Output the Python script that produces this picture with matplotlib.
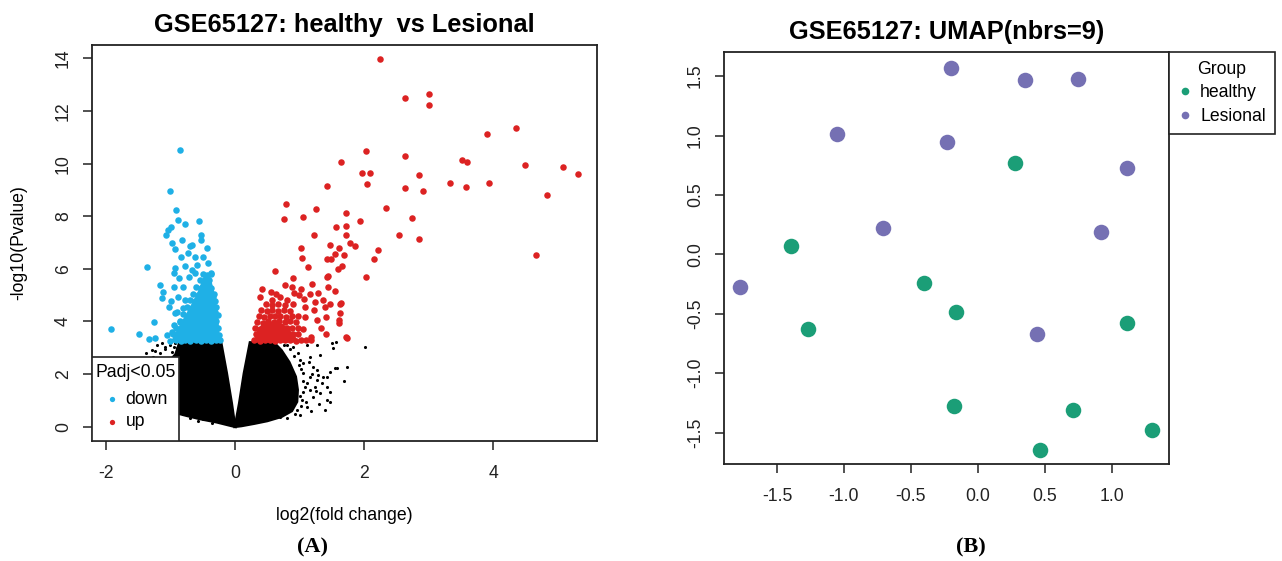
import matplotlib
matplotlib.use("Agg")
import matplotlib.pyplot as plt
from matplotlib.lines import Line2D
from matplotlib.patches import Rectangle
from matplotlib.ticker import FormatStrFormatter

plt.rcParams['font.family'] = ['Liberation Sans', 'DejaVu Sans']
plt.rcParams['axes.unicode_minus'] = False

# ---- panel A: volcano plot (log2 fold change, -log10 p) ----
# down-regulated genes
down_points = [
    (-0.848, 10.53), (-1.003, 8.95), (-0.915, 8.24), (-0.889, 7.86), (-0.775, 7.70),
    (-0.553, 7.82), (-0.997, 7.58), (-1.039, 7.48), (-1.070, 7.29), (-0.527, 7.28),
    (-0.982, 7.00), (-0.930, 6.74), (-0.662, 6.90), (-0.703, 6.85), (-0.434, 6.78),
    (-0.842, 6.46), (-0.724, 6.59), (-0.775, 6.12), (-0.930, 6.02), (-0.950, 5.83),
    (-1.369, 6.08), (-0.424, 6.24), (-0.377, 5.83), (-0.672, 5.96), (-0.620, 5.83),
    (-0.713, 5.70), (-1.163, 5.39), (-1.111, 5.13), (-0.941, 5.30), (-1.137, 4.88),
    (-0.992, 4.78), (-1.023, 4.56), (-0.904, 4.37), (-1.251, 3.98), (-1.927, 3.70),
    (-1.483, 3.51), (-1.329, 3.32), (-1.240, 3.36), (-0.941, 3.87), (-1.059, 3.49),
    (-0.972, 3.61), (-0.853, 3.99), (-0.930, 4.31), (-0.491, 6.44), (-0.620, 6.46),
    (-0.527, 7.10), (-0.594, 6.15), (-0.827, 7.10), (-0.868, 5.64), (-0.801, 5.32),
    (-0.878, 4.94), (-0.775, 4.82), (-0.801, 4.50), (-0.413, 5.39), (-0.336, 4.94),
    (-0.310, 4.37),
]
# the packed part of the down cloud
down_dense = [
    (-1.01, 3.27), (-0.92, 3.29), (-0.84, 3.26), (-0.77, 3.30), (-0.69, 3.27), (-0.60, 3.29),
    (-0.52, 3.26), (-0.45, 3.30), (-0.37, 3.27), (-0.30, 3.29), (-0.24, 3.28),
    (-0.96, 3.52), (-0.87, 3.49), (-0.79, 3.53), (-0.71, 3.50), (-0.63, 3.52), (-0.55, 3.48),
    (-0.47, 3.53), (-0.40, 3.50), (-0.32, 3.52), (-0.25, 3.49),
    (-0.91, 3.77), (-0.82, 3.74), (-0.74, 3.78), (-0.66, 3.75), (-0.58, 3.77), (-0.50, 3.74),
    (-0.42, 3.78), (-0.34, 3.75), (-0.27, 3.77),
    (-0.86, 4.03), (-0.77, 4.00), (-0.69, 4.04), (-0.61, 4.01), (-0.53, 4.03), (-0.45, 4.00),
    (-0.37, 4.04), (-0.29, 4.01),
    (-0.80, 4.28), (-0.72, 4.25), (-0.64, 4.29), (-0.56, 4.26), (-0.48, 4.28), (-0.40, 4.25),
    (-0.33, 4.29), (-0.27, 4.26),
    (-0.75, 4.54), (-0.67, 4.51), (-0.59, 4.55), (-0.51, 4.52), (-0.43, 4.54), (-0.35, 4.51),
    (-0.29, 4.55),
    (-0.70, 4.80), (-0.62, 4.77), (-0.54, 4.81), (-0.46, 4.78), (-0.38, 4.80), (-0.31, 4.77),
    (-0.65, 5.05), (-0.57, 5.02), (-0.49, 5.06), (-0.41, 5.03), (-0.33, 5.05),
    (-0.60, 5.31), (-0.52, 5.28), (-0.44, 5.32), (-0.37, 5.29),
    (-0.55, 5.56), (-0.47, 5.53), (-0.40, 5.57),
    (-0.50, 5.81), (-0.43, 5.78), (-0.37, 5.82),
]
down_core = [
    (-1.00, 3.20), (-0.23, 3.20), (-0.26, 4.20), (-0.31, 5.00), (-0.38, 5.70),
    (-0.48, 5.75), (-0.60, 5.00), (-0.78, 4.20), (-0.94, 3.50),
]
# up-regulated genes
up_points = [
    (2.248, 13.97), (2.641, 12.51), (3.013, 12.65), (3.013, 12.22), (3.902, 11.14),
    (4.352, 11.36), (2.031, 10.48), (2.641, 10.29), (1.649, 10.05), (3.519, 10.14),
    (3.592, 10.06), (4.501, 9.96), (5.090, 9.89), (5.313, 9.62), (1.964, 9.63),
    (2.098, 9.63), (2.858, 9.55), (2.047, 9.23), (1.426, 9.15), (2.641, 9.08),
    (2.920, 8.96), (3.338, 9.25), (3.581, 9.13), (3.938, 9.28), (4.842, 8.81),
    (0.791, 8.46), (0.760, 7.90), (1.049, 7.96), (1.251, 8.29), (1.721, 8.14),
    (2.336, 8.30), (2.739, 7.95), (1.566, 7.59), (1.726, 7.63), (1.943, 7.81),
    (1.230, 7.30), (1.726, 7.30), (2.548, 7.30), (2.853, 7.12), (4.660, 6.52),
    (1.023, 6.81), (1.044, 6.43), (1.478, 6.90), (1.612, 6.79), (1.778, 6.98),
    (1.866, 6.86), (2.222, 6.71), (2.150, 6.39), (1.555, 6.57), (1.426, 6.38),
    (1.483, 6.36), (1.690, 6.53), (1.127, 6.06), (1.597, 6.01), (1.659, 6.10),
    (1.426, 5.70), (2.026, 5.70), (0.620, 5.93), (0.413, 5.22), (0.553, 5.11),
    (0.641, 5.03), (0.770, 5.39), (0.904, 5.65), (0.889, 5.32), (0.915, 5.07),
    (1.028, 5.24), (0.997, 5.01), (1.070, 4.84), (1.189, 5.43), (1.163, 5.06),
    (1.292, 5.07), (1.369, 4.82), (1.447, 5.32), (1.447, 5.72), (1.546, 5.16),
    (1.628, 4.67), (1.468, 4.68), (1.395, 4.56), (1.628, 4.31), (1.612, 4.06),
    (1.406, 4.18), (1.328, 3.74), (1.406, 3.52), (1.721, 3.40), (1.178, 3.42),
    (1.266, 4.06), (1.225, 4.44), (1.085, 4.56), (1.085, 4.18), (1.608, 3.93),
    (1.732, 3.38), (1.650, 4.69), (0.698, 4.94), (0.801, 4.82), (0.569, 4.82),
    (1.240, 4.75), (0.388, 4.94),
]
up_dense = [
    (0.30, 3.29), (0.38, 3.27), (0.46, 3.30), (0.54, 3.28), (0.62, 3.27), (0.70, 3.30),
    (0.78, 3.28), (0.86, 3.29), (0.94, 3.27), (1.02, 3.30), (1.10, 3.28), (1.18, 3.31),
    (0.32, 3.53), (0.40, 3.50), (0.49, 3.54), (0.57, 3.51), (0.65, 3.53), (0.73, 3.50),
    (0.82, 3.54), (0.90, 3.51), (0.98, 3.53),
    (0.31, 3.76), (0.39, 3.73), (0.47, 3.77), (0.56, 3.74), (0.64, 3.78), (0.72, 3.75),
    (0.80, 3.77), (0.89, 3.74), (0.97, 3.76), (1.05, 3.73),
    (0.34, 3.99), (0.43, 3.96), (0.51, 4.00), (0.60, 3.97), (0.68, 4.01), (0.77, 3.98),
    (0.85, 4.00), (0.94, 3.97),
    (0.37, 4.21), (0.45, 4.18), (0.54, 4.22), (0.62, 4.19), (0.70, 4.21), (0.79, 4.18),
    (0.88, 4.22), (0.97, 4.19),
    (0.41, 4.43), (0.50, 4.40), (0.58, 4.44), (0.67, 4.41), (0.76, 4.43), (0.85, 4.40),
    (0.48, 4.66), (0.57, 4.63), (0.66, 4.67), (0.78, 4.64), (0.90, 4.66),
]
up_core = [
    (0.30, 3.20), (1.00, 3.20), (0.90, 3.55), (0.75, 3.90), (0.55, 4.00),
    (0.40, 3.85), (0.32, 3.55),
]
# not significant genes: the packed cloud as two lobes plus its loose fringe
ns_left_lobe = [
    (-0.217, 3.20), (-0.129, 2.03), (-0.052, 0.89), (0.0, 0.0), (-0.10, 0.06),
    (-0.28, 0.17), (-0.55, 0.30), (-0.75, 0.42), (-0.95, 0.55), (-1.05, 1.0),
    (-1.05, 2.4), (-0.92, 2.75), (-0.86, 3.20),
]
ns_right_lobe = [
    (0.233, 3.20), (0.60, 3.20), (0.72, 2.90), (0.84, 2.45), (0.94, 1.90),
    (0.97, 1.40), (0.96, 0.95), (0.88, 0.60), (0.72, 0.38), (0.50, 0.22),
    (0.30, 0.12), (0.10, 0.03), (0.0, 0.0), (0.067, 0.89), (0.140, 2.03),
]
ns_fringe = [
    (1.111, 3.11), (1.266, 3.11), (1.499, 3.19), (1.524, 2.98), (2.016, 3.02),
    (1.695, 1.74), (1.550, 2.22), (1.473, 2.09), (1.163, 2.66), (1.318, 2.73),
    (1.059, 2.41), (1.214, 2.28), (1.369, 1.90), (1.266, 1.78), (1.344, 1.65),
    (1.421, 1.52), (1.473, 1.33), (1.318, 1.27), (1.214, 1.14), (1.421, 1.02),
    (1.473, 0.95), (1.395, 0.63), (1.111, 0.76), (1.163, 1.40), (1.111, 1.65),
    (1.059, 2.03), (1.034, 1.02), (0.956, 0.63), (0.801, 0.32), (0.698, 0.36),
    (1.266, 2.16), (1.240, 1.52), (1.292, 1.97), (0.981, 2.79), (0.904, 3.04),
    (0.801, 3.11), (1.008, 2.54), (1.163, 1.90), (1.560, 3.23), (1.730, 2.28),
    (1.580, 2.22), (1.420, 1.88), (1.050, 1.30), (1.100, 0.95), (1.000, 0.45),
    (1.02, 2.20), (1.05, 1.75), (1.08, 1.50), (0.99, 2.35), (0.92, 2.70),
    (0.86, 2.95), (0.76, 3.12), (1.02, 0.80), (0.93, 0.50), (1.00, 1.15),
    (1.15, 2.45), (1.20, 2.00), (1.25, 1.35), (1.30, 0.85), (1.18, 0.60),
    (-1.292, 2.92), (-1.214, 3.11), (-1.137, 3.17), (-1.163, 2.79), (-1.085, 3.04),
    (-1.008, 3.11), (-0.930, 3.17), (-0.982, 2.85), (-0.904, 2.98), (-0.878, 2.73),
    (-0.956, 2.66), (-1.386, 2.81), (-1.237, 2.89), (-1.088, 2.96), (-1.279, 2.66),
    (-0.941, 3.02), (-0.749, 0.57), (-0.646, 0.41), (-0.698, 0.32), (-0.491, 0.28),
    (-0.413, 0.36), (-0.58, 0.22), (-0.35, 0.14), (-0.80, 0.48),
]
volcano_legend_title = 'Padj<0.05'
volcano_legend_labels = ['down', 'up']

# ---- panel B: UMAP embedding ----
healthy_x = [0.279, -1.393, -0.404, -0.167, -1.268, 1.110, -0.182, 0.710, 1.303, 0.466]
healthy_y = [0.770, 0.072, -0.241, -0.485, -0.625, -0.578, -1.277, -1.311, -1.480, -1.644]
lesional_x = [-0.202, 0.354, 0.750, -1.049, -0.229, 1.116, -0.710, 0.917, -1.779, 0.438]
lesional_y = [1.571, 1.471, 1.473, 1.013, 0.944, 0.726, 0.221, 0.189, -0.272, -0.670]

BLUE = '#1fb0e6'
RED = '#dc2222'
GREEN = '#1b9e77'
PURPLE = '#7570b3'
FS = 12.7

fig = plt.figure(figsize=(12.82, 5.61), dpi=100)
W, H = 1282, 561

ax1 = fig.add_axes([92 / W, 1 - 441 / H, (597 - 92) / W, (441 - 45) / H])
ax2 = fig.add_axes([724 / W, 1 - 464 / H, (1169 - 724) / W, (464 - 52) / H])

# volcano
for lobe in (ns_left_lobe, ns_right_lobe):
    lx, ly = zip(*lobe)
    ax1.fill(lx, ly, color='black', lw=2.0, zorder=2)
fx, fy = zip(*ns_fringe)
ax1.scatter(fx, fy, s=5, c='black', lw=0, zorder=2)
for core, col in ((down_core, BLUE), (up_core, RED)):
    cx, cy = zip(*core)
    ax1.fill(cx, cy, color=col, lw=0, zorder=3)
for pts, col in ((down_dense, BLUE), (down_points, BLUE), (up_dense, RED), (up_points, RED)):
    px, py = zip(*pts)
    ax1.scatter(px, py, s=22, c=col, lw=0, zorder=3)

ax1.set_xlim(-2.217, 5.612)
ax1.set_ylim(-0.544, 14.51)
ax1.set_xticks([-2, 0, 2, 4])
ax1.set_yticks(range(0, 15, 2))
ax1.set_xlabel('log2(fold change)', fontsize=FS, labelpad=18)
ax1.set_ylabel('-log10(Pvalue)', fontsize=FS, labelpad=20)

# legend box in the bottom-left corner, drawn like R's legend()
ax1.add_patch(Rectangle((0, 0), 0.1723, 0.2121, transform=ax1.transAxes, facecolor='white',
                        edgecolor='#222222', lw=1.2, zorder=5))
ax1.text(0.007, 0.1725, volcano_legend_title, transform=ax1.transAxes, fontsize=FS,
         ha='left', va='center', zorder=6)
for yy, lab, col in zip((0.1053, 0.0487), volcano_legend_labels, (BLUE, RED)):
    ax1.plot([0.039], [yy], transform=ax1.transAxes, ls='none', marker='o', ms=3.8,
             mec='none', mfc=col, zorder=6, clip_on=False)
    ax1.text(0.0667, yy, lab, transform=ax1.transAxes, fontsize=FS, ha='left',
             va='center', zorder=6)

# UMAP
ax2.scatter(healthy_x, healthy_y, s=125, c=GREEN, lw=0, zorder=3)
ax2.scatter(lesional_x, lesional_y, s=125, c=PURPLE, lw=0, zorder=3)
ax2.set_xlim(-1.896, 1.427)
ax2.set_ylim(-1.765, 1.703)
ax2.set_xticks([-1.5, -1.0, -0.5, 0.0, 0.5, 1.0])
ax2.set_yticks([-1.5, -1.0, -0.5, 0.0, 0.5, 1.0, 1.5])
ax2.xaxis.set_major_formatter(FormatStrFormatter('%.1f'))
ax2.yaxis.set_major_formatter(FormatStrFormatter('%.1f'))

grp_handles = [
    Line2D([], [], ls='none', marker='o', ms=5.5, mec='none', mfc=GREEN, label='healthy'),
    Line2D([], [], ls='none', marker='o', ms=5.5, mec='none', mfc=PURPLE, label='Lesional'),
]
leg2 = ax2.legend(handles=grp_handles, title='Group', loc='upper left',
                  bbox_to_anchor=(1.0, 1.0), borderaxespad=0, fontsize=FS, title_fontsize=FS,
                  fancybox=False, edgecolor='#222222', framealpha=1, handlelength=0.8,
                  handletextpad=0.47, labelspacing=0.37, borderpad=0.5)
leg2.get_frame().set_linewidth(1.2)

for ax in (ax1, ax2):
    for sp in ax.spines.values():
        sp.set_linewidth(1.3)
        sp.set_color('#222222')
    ax.tick_params(direction='out', length=6.5, width=1.1, labelsize=FS,
                   color='#222222', labelcolor='#222222')
    ax.tick_params(axis='x', pad=11)
    ax.tick_params(axis='y', pad=8)
    plt.setp(ax.get_yticklabels(), rotation=90, va='center')

fig.text(344.5 / W, 1 - 25 / H, 'GSE65127: healthy  vs Lesional', ha='center', va='center',
         fontsize=18.3, fontweight='bold')
fig.text(946.5 / W, 1 - 32 / H, 'GSE65127: UMAP(nbrs=9)', ha='center', va='center',
         fontsize=18.3, fontweight='bold')
fig.text(312 / W, 1 - 547 / H, '(A)', ha='center', va='center', fontsize=16,
         fontweight='bold', family='Liberation Serif')
fig.text(971 / W, 1 - 547 / H, '(B)', ha='center', va='center', fontsize=16,
         fontweight='bold', family='Liberation Serif')

fig.savefig('out.png', dpi=100)
